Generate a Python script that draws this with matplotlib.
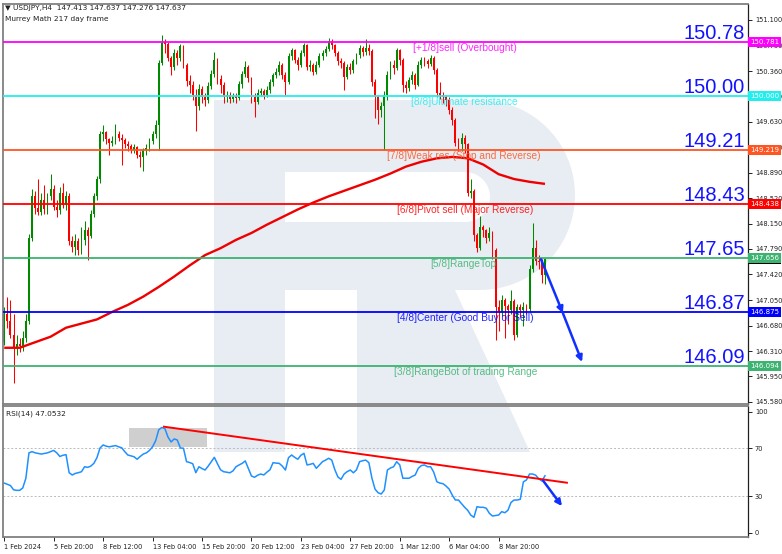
import numpy as np
import matplotlib
matplotlib.use("Agg")
import matplotlib.pyplot as plt
import matplotlib.transforms as mtransforms
from matplotlib.patches import Rectangle, Polygon

# ---------------- data ----------------
first_open = 146.45
closes = [146.85, 146.75, 146.55, 146.35, 146.42, 146.38, 146.50, 146.75, 147.95, 148.55,
          148.38, 148.33, 148.50, 148.36, 148.55, 148.65, 148.40, 148.35, 148.60, 148.42,
          148.55, 147.90, 147.82, 147.90, 147.78, 147.92, 148.06, 147.98, 148.30, 148.55,
          148.80, 149.45, 149.48, 149.38, 149.32, 149.35, 149.45, 149.40, 149.36, 149.30,
          149.28, 149.22, 149.26, 149.15, 149.12, 149.22, 149.25, 149.35, 149.45, 149.58,
          150.48, 150.78, 150.75, 150.55, 150.42, 150.62, 150.55, 150.72, 150.45, 150.22,
          150.16, 150.02, 149.85, 150.10, 149.98, 149.95, 150.15, 150.32, 150.52, 150.24,
          150.16, 149.98, 150.02, 149.96, 150.00, 149.97, 150.18, 150.32, 150.42, 150.26,
          149.98, 149.92, 150.05, 150.08, 150.02, 150.09, 150.20, 150.30, 150.35, 150.45,
          150.30, 150.20, 150.58, 150.66, 150.52, 150.45, 150.62, 150.74, 150.42, 150.45,
          150.35, 150.45, 150.58, 150.62, 150.68, 150.80, 150.74, 150.62, 150.50, 150.48,
          150.28, 150.42, 150.38, 150.50, 150.59, 150.70, 150.64, 150.70, 150.65, 150.20,
          149.98, 149.80, 149.85, 150.02, 150.30, 150.45, 150.40, 150.66, 150.52, 150.16,
          150.12, 150.23, 150.30, 150.16, 150.45, 150.52, 150.50, 150.47, 150.55, 150.38,
          150.04, 150.02, 149.98, 149.94, 149.80, 149.65, 149.32, 149.30, 149.40, 149.30,
          148.60, 148.62, 147.99, 147.80, 148.10, 148.06, 147.95, 148.02, 147.78, 146.95,
          146.88, 147.05, 146.96, 146.90, 147.03, 146.55, 146.95, 146.90, 146.95, 146.92,
          147.50, 147.80, 147.62, 147.60, 147.413, 147.637]
highs = [146.95, 147.10, 147.05, 146.85, 146.55, 146.50, 146.60, 146.85, 148.00, 148.65,
         148.62, 148.80, 148.60, 148.72, 148.60, 148.88, 148.72, 148.50, 148.68, 148.75,
         148.62, 148.60, 147.97, 148.00, 147.95, 148.10, 148.20, 148.10, 148.35, 148.60,
         148.85, 149.50, 149.58, 149.50, 149.40, 149.42, 149.60, 149.50, 149.45, 149.40,
         149.35, 149.30, 149.30, 149.28, 149.20, 149.25, 149.30, 149.40, 149.50, 149.65,
         150.52, 150.88, 150.82, 150.78, 150.58, 150.68, 150.66, 150.76, 150.74, 150.48,
         150.30, 150.22, 150.10, 150.18, 150.15, 150.05, 150.20, 150.38, 150.64, 150.55,
         150.30, 150.20, 150.08, 150.06, 150.05, 150.04, 150.22, 150.36, 150.50, 150.45,
         150.28, 150.05, 150.10, 150.12, 150.10, 150.14, 150.24, 150.34, 150.40, 150.50,
         150.48, 150.35, 150.62, 150.70, 150.68, 150.56, 150.66, 150.77, 150.75, 150.52,
         150.48, 150.50, 150.62, 150.66, 150.72, 150.84, 150.82, 150.76, 150.65, 150.55,
         150.50, 150.46, 150.48, 150.54, 150.62, 150.74, 150.72, 150.82, 150.75, 150.68,
         150.25, 150.02, 149.92, 150.08, 150.36, 150.50, 150.52, 150.70, 150.68, 150.55,
         150.22, 150.28, 150.36, 150.34, 150.50, 150.56, 150.56, 150.54, 150.60, 150.58,
         150.40, 150.20, 150.06, 150.02, 149.98, 149.84, 149.68, 149.40, 149.46, 149.44,
         149.32, 148.80, 148.65, 148.02, 148.26, 148.14, 148.08, 148.10, 148.05, 147.80,
         147.05, 147.12, 147.08, 147.00, 147.20, 147.06, 147.00, 147.00, 147.02, 147.00,
         147.56, 148.16, 147.92, 147.70, 147.65, 147.637]
lows = [146.40, 146.65, 146.50, 145.85, 146.25, 146.30, 146.32, 146.45, 146.70, 147.90,
        148.30, 148.28, 148.28, 148.30, 148.30, 148.50, 148.35, 148.25, 148.30, 148.38,
        148.35, 147.85, 147.75, 147.70, 147.70, 147.72, 147.85, 147.63, 147.95, 148.25,
        148.50, 148.75, 149.35, 149.30, 149.15, 149.28, 149.30, 149.35, 149.00, 149.25,
        149.20, 149.18, 149.18, 149.10, 148.98, 148.92, 149.15, 149.20, 149.30, 149.40,
        149.22, 150.45, 150.62, 150.50, 150.30, 150.38, 150.45, 150.50, 150.40, 150.15,
        150.05, 149.95, 149.50, 149.80, 149.90, 149.85, 149.90, 150.10, 150.28, 150.18,
        150.05, 149.90, 149.92, 149.90, 149.92, 149.90, 149.95, 150.12, 150.28, 150.20,
        149.90, 149.70, 149.88, 150.00, 149.96, 149.98, 150.05, 150.15, 150.26, 150.30,
        150.25, 150.02, 150.18, 150.52, 150.48, 150.38, 150.42, 150.58, 150.38, 150.36,
        150.30, 150.32, 150.42, 150.52, 150.58, 150.65, 150.68, 150.58, 150.45, 150.40,
        150.09, 150.24, 150.32, 150.34, 150.46, 150.55, 150.58, 150.60, 150.60, 150.15,
        149.68, 149.60, 149.70, 149.22, 149.95, 150.25, 150.32, 150.38, 150.45, 150.06,
        150.04, 150.08, 150.18, 150.10, 150.14, 150.40, 150.44, 150.40, 150.44, 150.32,
        149.98, 149.96, 149.90, 149.85, 149.74, 149.58, 149.28, 149.20, 149.20, 149.18,
        148.55, 148.52, 147.90, 147.74, 147.78, 147.96, 147.88, 147.90, 147.65, 146.47,
        146.60, 146.82, 146.50, 146.70, 146.85, 146.47, 146.52, 146.80, 146.68, 146.85,
        146.88, 147.45, 147.55, 147.50, 147.30, 147.276]
ma_step = 5
ma_values = [146.36, 146.36, 146.44, 146.52, 146.65, 146.71, 146.77, 146.88, 146.98, 147.10,
             147.24, 147.39, 147.55, 147.70, 147.80, 147.92, 148.02, 148.14, 148.25, 148.36,
             148.46, 148.55, 148.63, 148.71, 148.79, 148.88, 148.98, 149.05, 149.10, 149.12,
             149.10, 149.01, 148.87, 148.80, 148.76, 148.73]
rsi_values = [41, 40, 39, 35.5, 35, 35, 37, 45, 66, 67,
              66, 65.5, 65, 65.5, 66, 67, 68, 66, 63, 64,
              64.5, 49.6, 47.7, 49, 49.6, 50.4, 54.5, 54, 55, 57.3,
              62, 70, 72.5, 71.5, 71, 71.5, 72, 71, 70.2, 67,
              64.2, 63.5, 62.8, 60.7, 63, 65, 66, 68, 71, 76,
              85, 87, 86, 79, 75, 77.5, 76.6, 70, 69.8, 58.7,
              58, 57, 49.6, 54.5, 53, 51.8, 55, 58.7, 62.3, 57,
              52, 50.4, 50, 49.5, 51, 54.5, 56, 57.3, 59.3, 53,
              46.9, 45.8, 47.5, 48.5, 47.7, 50, 52, 57.9, 57.5, 57.3,
              55, 51.8, 62, 64.2, 62.3, 60.7, 64, 65.6, 56, 56.5,
              57.3, 53.2, 56, 58.7, 60, 61.5, 60, 52, 46, 44.1,
              48.5, 50.5, 51.8, 49.5, 52, 58.7, 59.5, 60, 57.9, 45,
              36, 33, 32, 35.3, 51.8, 53.5, 54.5, 58.7, 56, 45,
              45, 45, 46.5, 47.7, 53.2, 55.5, 56, 54.5, 54.5, 50,
              42.1, 41, 40.5, 38.5, 36, 31, 27, 27, 24, 21,
              18.5, 14.5, 12.7, 21.5, 21, 21, 20.2, 16, 13.8, 14.2,
              14.6, 17.4, 16.5, 18.5, 25, 27, 27, 27.6, 42, 43.6,
              48.5, 48.5, 47.5, 44.5, 42.7, 47.05]
levels = [150.781, 150.000, 149.219, 148.438, 147.656, 146.875, 146.094]
level_names = ["[+1/8]sell (Overbought)", "[8/8]Ultimate resistance",
               "[7/8]Weak res (Stop and Reverse)", "[6/8]Pivot sell (Major Reverse)",
               "[5/8]RangeTop", "[4/8]Center (Good Buy or Sell)",
               "[3/8]RangeBot of trading Range"]
level_big = ["150.78", "150.00", "149.21", "148.43", "147.65", "146.87", "146.09"]
price_ticks = [151.100, 150.730, 150.360, 149.990, 149.630, 149.260, 148.890, 148.520,
               148.150, 147.790, 147.420, 147.050, 146.680, 146.310, 145.950, 145.580]
time_labels = ["1 Feb 2024", "5 Feb 20:00", "8 Feb 12:00", "13 Feb 04:00", "15 Feb 20:00",
               "20 Feb 12:00", "23 Feb 04:00", "27 Feb 20:00", "1 Mar 12:00",
               "6 Mar 04:00", "8 Mar 20:00"]
time_label_step = 16
rsi_ticks = [0, 30, 70, 100]
last_price = 147.637
header = "\u25bc USDJPY,H4  147.413 147.637 147.276 147.637"
rsi_title = "RSI(14) 47.0532"
forecast_x = [173.7, 180.8, 187.0]
forecast_price = [147.64, 146.86, 146.155]
rsi_trend_x = [51.7, 182.1]
rsi_trend_y = [87.6, 41.3]
rsi_forecast_x = [174.4, 180.5]
rsi_forecast_y = [43, 22]
rsi_box_x = [40.4, 65.6]
rsi_box_y = [71, 86.3]

# ---------------- style ----------------
level_colors = ["#ff00ff", "#22eeee", "#ff5522", "#ff0000", "#3cb371", "#0000ff", "#3cb371"]
label_px = [413, 410.7, 387.3, 397.3, 430, 396.7, 394]
W, H = 782, 554
BAR = 3.09


def bx(px):
    return (px - 3) / BAR - 0.4


def fx(px):
    return px / W


def fy(py):
    return 1 - py / H


fig = plt.figure(figsize=(W / 100, H / 100), dpi=100)
fig.patch.set_facecolor("white")

# watermark logo (behind everything)
wm = "#e8ecf3"
def P(pts, color=wm, z=-5):
    fig.add_artist(Polygon([(fx(a), fy(b)) for a, b in pts], closed=True,
                           transform=fig.transFigure, facecolor=color,
                           edgecolor="none", zorder=z))

th = np.linspace(np.pi / 2, -np.pi / 2, 40)
outer = [(214, 100), (480, 100)] + [(480 + 95 * np.cos(t), 195 - 95 * np.sin(t)) for t in th] + \
        [(480, 290), (214, 290)]
P(outer)
P([(214, 100), (285, 100), (285, 452), (214, 452)])
inner = [(285, 172), (465, 172)] + [(465 + 25 * np.cos(t), 197 - 25 * np.sin(t)) for t in th] + \
        [(465, 222), (285, 222)]
P(inner, color="white", z=-4)
P([(357, 290), (455, 290), (530, 452), (357, 452)])

ax = fig.add_axes([fx(3), fy(403.5), fx(748) - fx(3), fy(4) - fy(403.5)])
axr = fig.add_axes([fx(3), fy(537), fx(748) - fx(3), fy(406) - fy(537)])
for a in (ax, axr):
    a.set_facecolor("none")
    a.set_xlim(bx(3), bx(748))
    for s in ("left", "top", "bottom"):
        a.spines[s].set_color("#808080")
        a.spines[s].set_linewidth(1.3)
    a.spines["right"].set_color("#202020")
    a.spines["right"].set_linewidth(0.9)

ax.set_ylim(151.1 - 383.5 / 69.15, 151.1 + 16 / 69.15)
axr.set_ylim((532.7 - 537) / 1.21, (532.7 - 406) / 1.21)

# candles
c = np.array(closes)
hgh = np.array(highs)
lw_ = np.array(lows)
o = np.r_[first_open, c[:-1]]
idx = np.arange(len(c))
cols = np.where(c >= o, "#008a00", "#ff0000")
ax.vlines(idx, lw_, hgh, colors=cols, lw=0.75, zorder=2)
ax.bar(idx, np.maximum(np.abs(c - o), 0.012), bottom=np.minimum(o, c), width=0.6,
       color=cols, linewidth=0, zorder=2)

# moving average
ma_x = np.arange(0, len(c), ma_step)
ax.plot(ma_x, ma_values, color="#ee0000", lw=1.7, zorder=3, solid_capstyle="butt")

# levels
fn = "Liberation Sans"
below = mtransforms.offset_copy(ax.transData, fig=fig, y=-6, units="dots")
above = mtransforms.offset_copy(ax.transData, fig=fig, y=3.5, units="dots")
boxtr = mtransforms.blended_transform_factory(ax.transAxes, ax.transData)
boxtr = mtransforms.offset_copy(boxtr, fig=fig, x=2, units="dots")
ax.text(1.0, last_price, "147.637", transform=boxtr, ha="left", va="center",
        fontsize=5, color="white", zorder=5,
        bbox=dict(boxstyle="square,pad=0.25", fc="black", ec="none"))
for lv, name, big, col, lpx in zip(levels, level_names, level_big, level_colors, label_px):
    ax.axhline(lv, color=col, lw=1.3, zorder=3)
    ax.text(bx(lpx), lv, name, transform=below, ha="left", va="center", fontsize=7.3,
            family=fn, color=col, alpha=0.85, zorder=4)
    ax.text(bx(745), lv, big, transform=above, ha="right", va="baseline", fontsize=14.5,
            family=fn, color="#1212ff", zorder=4)
    ax.text(1.0, lv, f"{lv:.3f}", transform=boxtr, ha="left", va="center", fontsize=5,
            color="white", zorder=6,
            bbox=dict(boxstyle="square,pad=0.25", fc=col, ec="none"))

# forecast arrows (price)
for i in range(len(forecast_x) - 1):
    ax.annotate("", xy=(forecast_x[i + 1], forecast_price[i + 1]),
                xytext=(forecast_x[i], forecast_price[i]),
                arrowprops=dict(arrowstyle="-|>", color="#1030ff", lw=1.8,
                                mutation_scale=9, shrinkA=0, shrinkB=0), zorder=5)

# price axis ticks
ax.yaxis.tick_right()
ax.set_yticks(price_ticks)
ax.set_yticklabels([f"{t:.3f}" for t in price_ticks])
ax.tick_params(axis="y", length=3, width=0.7, labelsize=4.8, pad=2, colors="#202020")
ax.set_xticks([])

# RSI panel
axr.axhline(70, color="#bbbbbb", lw=0.7, ls=(0, (2, 2)), zorder=1)
axr.axhline(30, color="#bbbbbb", lw=0.7, ls=(0, (2, 2)), zorder=1)
axr.add_patch(Rectangle((rsi_box_x[0], rsi_box_y[0]), rsi_box_x[1] - rsi_box_x[0],
                        rsi_box_y[1] - rsi_box_y[0], facecolor="#cfcfcf", edgecolor="none",
                        zorder=1))
axr.plot(np.arange(len(rsi_values)), rsi_values, color="#1e90ff", lw=1.1, zorder=2)
axr.plot(rsi_trend_x, rsi_trend_y, color="#ff0000", lw=1.4, zorder=3)
axr.annotate("", xy=(rsi_forecast_x[1], rsi_forecast_y[1]),
             xytext=(rsi_forecast_x[0], rsi_forecast_y[0]),
             arrowprops=dict(arrowstyle="-|>", color="#1030ff", lw=1.8,
                             mutation_scale=9, shrinkA=0, shrinkB=0), zorder=4)
axr.yaxis.tick_right()
axr.set_yticks(rsi_ticks)
axr.set_yticklabels([str(t) for t in rsi_ticks])
axr.tick_params(axis="y", length=3, width=0.7, labelsize=4.8, pad=2, colors="#202020")
tpos = np.arange(len(time_labels)) * time_label_step
axr.set_xticks(tpos)
axr.set_xticklabels(time_labels)
axr.tick_params(axis="x", length=3, width=0.7, labelsize=4.8, pad=2, colors="#202020")
for lb in axr.get_xticklabels():
    lb.set_ha("left")

fig.text(fx(5), fy(8), header, fontsize=5.3, va="center", color="#202020")
fig.text(fx(5), fy(19), "Murrey Math 217 day frame", fontsize=5.3, va="center", color="#202020")
fig.text(fx(6), fy(414), rsi_title, fontsize=5.3, va="center", color="#202020")

fig.savefig("out.png", dpi=100)
